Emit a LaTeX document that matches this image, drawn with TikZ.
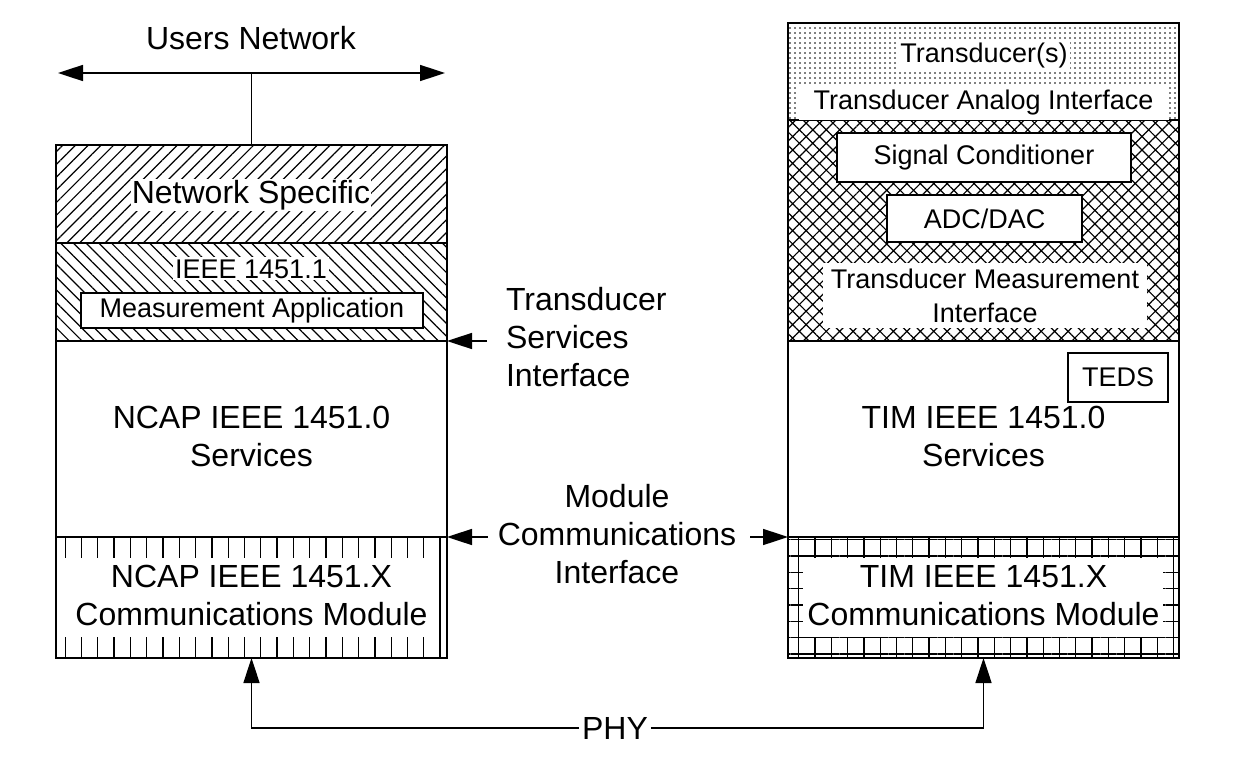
\documentclass[tikz,border=0pt]{standalone}
\usepackage{fontspec}
\setmainfont{Liberation Sans}
\usetikzlibrary{positioning,arrows.meta,patterns.meta}

\begin{document}
\begin{tikzpicture}[x=1pt, y=-1pt, line width=1.6pt,
  every node/.style={inner sep=0pt, outer sep=0pt},
  big/.style={font=\fontsize{32}{38}\selectfont, align=center},
  small/.style={font=\fontsize{27}{34}\selectfont, align=center},
  layer/.style={draw, line width=1.6pt, minimum width=391pt},
  subbox/.style={small, draw, fill=white, line width=1.6pt},
  halo/.style={fill=white, inner sep=2pt},
  >={Triangle[length=25pt,width=16pt]}]
\useasboundingbox (0,0) rectangle (1245,768);

% NCAP side
\node[layer, minimum height=98pt, pattern={Lines[angle=45,distance=9pt,line width=1.2pt]}] (netspec) at (251.5,194) {};
\node[layer, minimum height=98pt, pattern={Lines[angle=-45,distance=9pt,line width=1.2pt]}] (ieee11) at (251.5,292) {};
\node[layer, minimum height=196pt] (ncap) at (251.5,439) {};
\node[layer, minimum height=121pt, pattern={Lines[angle=90,distance=16.3pt,line width=1.3pt]}] (ncapcomm) at (251.5,597.5) {};
\fill[white] ([xshift=1pt,yshift=-21pt]ncapcomm.north west) rectangle ([xshift=-16pt,yshift=21pt]ncapcomm.south east);

% TIM side
\node[layer, minimum height=97pt, pattern={Dots[distance=5pt,radius=0.95pt]}] (xdcr) at (983.5,71.5) {};
\node[layer, minimum height=221pt, pattern={Hatch[angle=45,distance=9.5pt,line width=1.2pt]}] (tmi) at (983.5,230.5) {};
\node[layer, minimum height=196pt] (tim) at (983.5,439) {};
\node[layer, minimum height=121pt, pattern={Hatch[angle=0,distance=16.3pt,line width=1.3pt]}] (timcomm) at (983.5,597.5) {};
\fill[white] ([xshift=15pt,yshift=-21pt]timcomm.north west) rectangle ([xshift=-16pt,yshift=21pt]timcomm.south east);

% labels, NCAP
\node[big, anchor=base] (users) at (251,50) {Users Network};
\node[big, halo, inner sep=1pt, anchor=base] (nstext) at (251,203) {Network Specific};
\node[small, halo, anchor=base] (ieeetext) at (251,278) {IEEE 1451.1};
\node[subbox, minimum width=342pt, minimum height=35pt] (measapp) at (252,310.5) {Measurement Application};
\node[big] (ncaptext) at (251.5,436) {NCAP IEEE 1451.0\\Services};
\node[big] (ncapcommtext) at (251.5,595.5) {NCAP IEEE 1451.X\\Communications Module};

% labels, TIM
\node[small, halo, anchor=base] (xdcrtext) at (984,63) {Transducer(s)};
\node[small, halo, inner ysep=4pt, minimum width=370pt, anchor=base] (taitext) at (983.5,110) {Transducer Analog Interface};
\node[subbox, minimum width=294pt, minimum height=49pt] (sigcond) at (984,157.5) {Signal Conditioner};
\node[subbox, minimum width=195pt, minimum height=47pt] (adc) at (984.5,218.5) {ADC/DAC};
\node[small, halo, inner xsep=8pt, inner ysep=6pt] (tmitext) at (985,295.5) {Transducer Measurement\\Interface};
\node[subbox, minimum width=100pt, minimum height=49pt] (teds) at (1118,377.5) {TEDS};
\node[big] (timtext) at (983.5,436) {TIM IEEE 1451.0\\Services};
\node[big] (timcommtext) at (983.5,595.5) {TIM IEEE 1451.X\\Communications Module};

% interfaces
\node[big, align=left, anchor=west] (tsi) at (506,337.5) {Transducer\\Services\\Interface};
\node[big] (mci) at (617,534) {Module\\Communications\\Interface};
\node[big, inner xsep=3pt, anchor=base] (phy) at (615,739) {PHY};

\coordinate (usl) at (58,73);
\coordinate (usr) at (445,73);
\draw[<->] (usl) -- (usr);
\draw (netspec.north) -- (netspec.north |- usl);

\draw[->, shorten <=19pt] (tsi.west |- ncap.north east) -- (ncap.north east);
\draw[->, shorten <=10pt] (mci.west |- ncapcomm.north east) -- (ncapcomm.north east);
\draw[->, shorten <=14pt] (mci.east |- timcomm.north west) -- (timcomm.north west);
\draw[->] (phy.west) -| (ncapcomm.south);
\draw[->] (phy.east) -| (timcomm.south);
\end{tikzpicture}
\end{document}
